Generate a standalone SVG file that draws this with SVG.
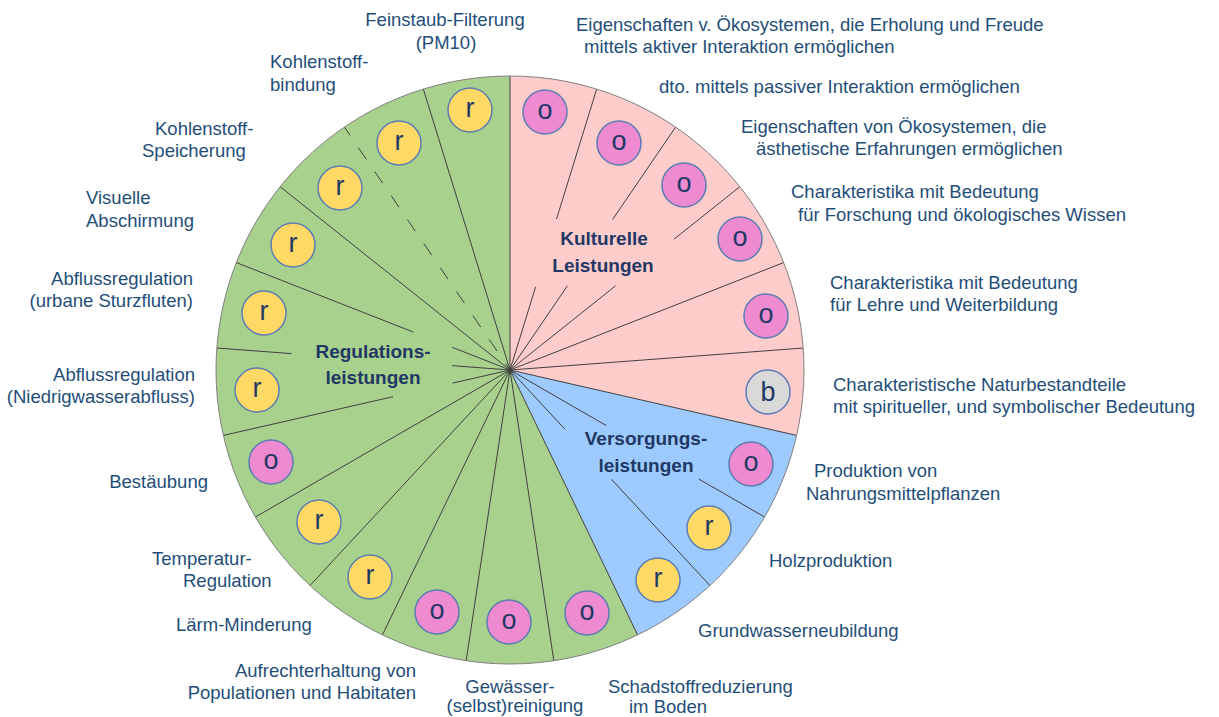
<svg xmlns="http://www.w3.org/2000/svg" width="1219" height="717" viewBox="0 0 1219 717">
<style>
.lbl{font-family:"Liberation Sans",Arial,sans-serif;font-size:18.5px;fill:#1F4E79}
.e{text-anchor:end}.m{text-anchor:middle}
.cat{font-family:"Liberation Sans",Arial,sans-serif;font-size:19px;font-weight:bold;fill:#1F3864;text-anchor:middle}
.b{stroke:#5B7DB1;stroke-width:1.5}
.y{fill:#FFD966}.p{fill:#EE8BD0}.g{fill:#D9D9D9}
.l{font-family:"Liberation Sans",Arial,sans-serif;font-size:27px;fill:#1F3864;text-anchor:middle}
.sep{stroke:#404040;stroke-width:1;fill:none}
</style>
<rect width="1219" height="717" fill="#FFFFFF"/>
<g id="sector-kulturell"><path d="M510,370 L510,76 A294,294 0 0 1 796.63,435.42 Z" fill="#FFCCCC"/></g>
<g id="sector-versorgung"><path d="M510,370 L796.63,435.42 A294,294 0 0 1 637.56,634.89 Z" fill="#9DCBFF"/></g>
<g id="sector-regulation"><path d="M510,370 L637.56,634.89 A294,294 0 1 1 510,76 Z" fill="#A9D18E"/></g>
<g id="connectors" class="sep">
<line x1="510" y1="370" x2="510" y2="76"/>
<line x1="510" y1="370" x2="535.64" y2="286.87"/><line x1="556.57" y1="219.02" x2="596.66" y2="89.06"/>
<line x1="510" y1="370" x2="567.46" y2="285.72"/><line x1="612.52" y1="219.62" x2="675.62" y2="127.09"/>
<line x1="510" y1="370" x2="615.55" y2="285.83"/><line x1="674.18" y1="239.07" x2="739.86" y2="186.69"/>
<line x1="510" y1="370" x2="783.68" y2="262.59"/>
<line x1="510" y1="370" x2="803.18" y2="348.03"/>
<line x1="510" y1="370" x2="796.63" y2="435.42"/>
<line x1="510" y1="370" x2="606.13" y2="425.5"/><line x1="698.79" y1="479" x2="764.61" y2="517"/>
<line x1="510" y1="370" x2="565.09" y2="429.38"/><line x1="611.35" y1="479.22" x2="709.97" y2="585.52"/>
<line x1="510" y1="370" x2="637.56" y2="634.89"/>
<line x1="510" y1="370" x2="553.82" y2="660.72"/>
<line x1="510" y1="370" x2="466.18" y2="660.72"/>
<line x1="510" y1="370" x2="382.44" y2="634.89"/>
<line x1="510" y1="370" x2="310.03" y2="585.52"/>
<line x1="510" y1="370" x2="255.39" y2="517"/>
<line x1="510" y1="370" x2="452.48" y2="383.13"/><line x1="393.01" y1="396.7" x2="223.37" y2="435.42"/>
<line x1="510" y1="370" x2="452.16" y2="365.67"/><line x1="291.61" y1="353.63" x2="216.82" y2="348.03"/>
<line x1="510" y1="370" x2="452.29" y2="347.35"/><line x1="413.19" y1="332" x2="236.32" y2="262.59"/>
<line x1="510" y1="370" x2="280.14" y2="186.69"/>
<line x1="344.38" y1="127.09" x2="510" y2="370" stroke-dasharray="14 15" stroke-dashoffset="4"/>
<line x1="510" y1="370" x2="423.34" y2="89.06"/>
</g>
<g id="rim"><circle cx="510" cy="370" r="294" fill="none" stroke="#7F7F7F" stroke-width="1"/></g>
<g id="cat-kulturell"><text class="cat" x="604" y="245">Kulturelle</text><text class="cat" x="603" y="272">Leistungen</text></g>
<g id="cat-regulation"><text class="cat" x="373" y="358">Regulations-</text><text class="cat" x="373" y="384">leistungen</text></g>
<g id="cat-versorgung"><text class="cat" x="646" y="445">Versorgungs-</text><text class="cat" x="646" y="472">leistungen</text></g>

<g id="svc-aktiv"><circle class="b p" cx="545" cy="112" r="22"/><text class="l" x="545" y="119">o</text>
<text class="lbl" x="576" y="31">Eigenschaften v. Ökosystemen, die Erholung und Freude</text><text class="lbl" x="584" y="53">mittels aktiver Interaktion ermöglichen</text></g>
<g id="svc-passiv"><circle class="b p" cx="619" cy="143" r="22"/><text class="l" x="619" y="150">o</text>
<text class="lbl" x="659" y="93">dto. mittels passiver Interaktion ermöglichen</text></g>
<g id="svc-aesthetik"><circle class="b p" cx="684" cy="185" r="22"/><text class="l" x="684" y="192">o</text>
<text class="lbl" x="741" y="133">Eigenschaften von Ökosystemen, die</text><text class="lbl" x="756" y="155">ästhetische Erfahrungen ermöglichen</text></g>
<g id="svc-forschung"><circle class="b p" cx="740" cy="239" r="22"/><text class="l" x="740" y="246">o</text>
<text class="lbl" x="791" y="198">Charakteristika mit Bedeutung</text><text class="lbl" x="798" y="221">für Forschung und ökologisches Wissen</text></g>
<g id="svc-lehre"><circle class="b p" cx="766" cy="316" r="22"/><text class="l" x="766" y="323">o</text>
<text class="lbl" x="830" y="289">Charakteristika mit Bedeutung</text><text class="lbl" x="830" y="311">für Lehre und Weiterbildung</text></g>
<g id="svc-spirituell"><circle class="b g" cx="768" cy="392" r="22"/><text class="l" x="768" y="401">b</text>
<text class="lbl" x="833" y="391">Charakteristische Naturbestandteile</text><text class="lbl" x="833" y="413">mit spiritueller, und symbolischer Bedeutung</text></g>
<g id="svc-nahrung"><circle class="b p" cx="751" cy="464" r="22"/><text class="l" x="751" y="471">o</text>
<text class="lbl" x="814" y="477">Produktion von</text><text class="lbl" x="806" y="500">Nahrungsmittelpflanzen</text></g>
<g id="svc-holz"><circle class="b y" cx="709" cy="528" r="22"/><text class="l" x="709" y="535">r</text>
<text class="lbl" x="769" y="567">Holzproduktion</text></g>
<g id="svc-grundwasser"><circle class="b y" cx="658" cy="580" r="22"/><text class="l" x="658" y="587">r</text>
<text class="lbl" x="698" y="637">Grundwasserneubildung</text></g>
<g id="svc-schadstoff"><circle class="b p" cx="587" cy="613" r="22"/><text class="l" x="587" y="620">o</text>
<text class="lbl" x="608" y="693">Schadstoffreduzierung</text><text class="lbl" x="629" y="713">im Boden</text></g>
<g id="svc-gewaesser"><circle class="b p" cx="509" cy="622" r="22"/><text class="l" x="509" y="629">o</text>
<text class="lbl m" x="510" y="693">Gewässer-</text><text class="lbl m" x="515" y="712">(selbst)reinigung</text></g>
<g id="svc-habitate"><circle class="b p" cx="437" cy="612" r="22"/><text class="l" x="437" y="619">o</text>
<text class="lbl e" x="416" y="677">Aufrechterhaltung von</text><text class="lbl e" x="416" y="699">Populationen und Habitaten</text></g>
<g id="svc-laerm"><circle class="b y" cx="370" cy="577" r="22"/><text class="l" x="370" y="584">r</text>
<text class="lbl" x="176" y="631">Lärm-Minderung</text></g>
<g id="svc-temperatur"><circle class="b y" cx="319" cy="522" r="22"/><text class="l" x="319" y="529">r</text>
<text class="lbl" x="152" y="565">Temperatur-</text><text class="lbl" x="183" y="587">Regulation</text></g>
<g id="svc-bestaeubung"><circle class="b p" cx="271" cy="462" r="22"/><text class="l" x="271" y="469">o</text>
<text class="lbl e" x="208" y="488">Bestäubung</text></g>
<g id="svc-niedrigwasser"><circle class="b y" cx="257" cy="390" r="22"/><text class="l" x="257" y="397">r</text>
<text class="lbl e" x="195" y="381">Abflussregulation</text><text class="lbl e" x="195" y="403">(Niedrigwasserabfluss)</text></g>
<g id="svc-sturzfluten"><circle class="b y" cx="264" cy="313" r="22"/><text class="l" x="264" y="320">r</text>
<text class="lbl e" x="193" y="285">Abflussregulation</text><text class="lbl e" x="193" y="307">(urbane Sturzfluten)</text></g>
<g id="svc-abschirmung"><circle class="b y" cx="293" cy="245" r="22"/><text class="l" x="293" y="252">r</text>
<text class="lbl" x="86" y="204">Visuelle</text><text class="lbl" x="86" y="227">Abschirmung</text></g>
<g id="svc-speicherung"><circle class="b y" cx="340" cy="188" r="22"/><text class="l" x="340" y="195">r</text>
<text class="lbl" x="155" y="135">Kohlenstoff-</text><text class="lbl" x="142" y="157">Speicherung</text></g>
<g id="svc-bindung"><circle class="b y" cx="399" cy="143" r="22"/><text class="l" x="399" y="150">r</text>
<text class="lbl" x="270" y="68">Kohlenstoff-</text><text class="lbl" x="270" y="91">bindung</text></g>
<g id="svc-feinstaub"><circle class="b y" cx="470" cy="110" r="22"/><text class="l" x="470" y="117">r</text>
<text class="lbl m" x="445" y="26">Feinstaub-Filterung</text><text class="lbl m" x="446" y="49">(PM10)</text></g>
</svg>
